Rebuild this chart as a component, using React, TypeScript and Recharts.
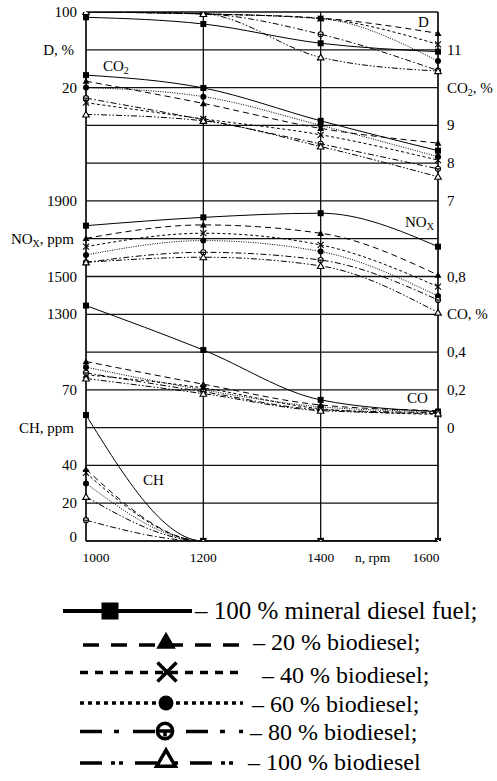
import React from "react";
import { ComposedChart, Line, XAxis, YAxis, CartesianGrid } from "recharts";

// ---------- data ----------
const rpm = [1000, 1200, 1400, 1600];
const fuelKeys = ["diesel", "b20", "b40", "b60", "b80", "b100"];
const fuelNames = [
  "100 % mineral diesel fuel;",
  "20 % biodiesel;",
  "40 % biodiesel;",
  "60 % biodiesel;",
  "80 % biodiesel;",
  "100 % biodiesel",
];

// smoke opacity D, %
const smokeD = [
  [94.4, 87.3, 66.9, 58.0],
  [100, 98, 93.5, 77.4],
  [100, 98, 93, 65.8],
  [100, 98, 93, 48],
  [100, 98, 76.4, 38],
  [100, 98, 52, 37.5],
];
// CO2, %
const co2 = [
  [10.33, 9.99, 9.12, 8.33],
  [10.17, 9.58, 8.92, 8.53],
  [9.6, 9.17, 8.75, 8.08],
  [10.0, 9.76, 9.0, 8.17],
  [9.72, 9.15, 8.51, 7.85],
  [9.29, 9.12, 8.44, 7.64],
];
// NOx, ppm
const nox = [
  [1769, 1813, 1835, 1658],
  [1702, 1773, 1729, 1508],
  [1658, 1729, 1667, 1446],
  [1614, 1690, 1632, 1397],
  [1575, 1628, 1587, 1376],
  [1575, 1602, 1556, 1309],
];
// CO, %
const co = [
  [0.646, 0.411, 0.147, 0.085],
  [0.35, 0.23, 0.12, 0.09],
  [0.28, 0.21, 0.1, 0.07],
  [0.32, 0.2, 0.11, 0.085],
  [0.29, 0.19, 0.095, 0.08],
  [0.26, 0.18, 0.09, 0.075],
];
// CH, ppm
const ch = [
  [66.7, 0, 0, 0],
  [38, 0, 0, 0],
  [36, 0, 0, 0],
  [30.5, 0, 0, 0],
  [11, 0, 0, 0],
  [23.4, 0, 0, 0],
];

// grid rows (top = 0, bottom = 14) and the labels shown beside them
const gridRows = [0, 1, 2, 3, 4, 5, 6, 7, 8, 9, 10, 11, 12, 13, 14];
const leftLabels: Record<number, string> = {
  0: "100", 1: "D, %", 2: "20", 5: "1900", 6: "NOX, ppm", 7: "1500", 8: "1300",
  10: "70", 11: "CH, ppm", 12: "40", 13: "20", 14: "0",
};
const rightLabels: Record<number, string> = {
  1: "11", 2: "CO2, %", 3: "9", 4: "8", 5: "7", 7: "0,8", 8: "CO, %", 9: "0,4", 10: "0,2", 11: "0",
};

// D axis: 100 at top, 40 % per grid row; CO2 axis: 12 at top, 1 % per row
const dTicks = gridRows.map((r) => 100 - 40 * r);
const co2Ticks = gridRows.map((r) => 12 - r);

// ---------- build table ----------
const quantities = [
  { id: "D", values: smokeD, domain: [-460, 100] },
  { id: "CO2", values: co2, domain: [-2, 12] },
  { id: "NOx", values: nox, domain: [100, 2900] },
  { id: "CO", values: co, domain: [-0.6, 2.2] },
  { id: "CH", values: ch, domain: [0, 280] },
];

const table = rpm.map((n, i) => {
  const row: Record<string, number> = { rpm: n };
  quantities.forEach((q) => {
    fuelKeys.forEach((k, f) => {
      row[`${q.id}_${k}`] = q.values[f][i];
    });
  });
  return row;
});

const FONT = "'Liberation Serif', 'Times New Roman', serif";

const styles = [
  { dash: undefined as string | undefined, marker: "square" },
  { dash: "6 4", marker: "triangle" },
  { dash: "3 2.5", marker: "cross" },
  { dash: "1 1.4", marker: "dot" },
  { dash: "6 2.5 1.5 2.5", marker: "circle" },
  { dash: "6 2 1.5 2 1.5 2", marker: "opentri" },
];

function Marker({ shape, cx, cy, s, sw }: { shape: string; cx: number; cy: number; s: number; sw: number }) {
  const h = s / 2;
  switch (shape) {
    case "square":
      return <rect x={cx - h} y={cy - h} width={s} height={s} fill="#000" />;
    case "triangle":
      return <polygon points={`${cx},${cy - h * 1.1} ${cx - h * 1.15},${cy + h * 0.9} ${cx + h * 1.15},${cy + h * 0.9}`} fill="#000" />;
    case "cross":
      return (
        <g stroke="#000" strokeWidth={sw}>
          <line x1={cx - h} y1={cy - h} x2={cx + h} y2={cy + h} />
          <line x1={cx - h} y1={cy + h} x2={cx + h} y2={cy - h} />
        </g>
      );
    case "dot":
      return <circle cx={cx} cy={cy} r={h} fill="#000" />;
    case "circle":
      return (
        <g stroke="#000" strokeWidth={sw}>
          <circle cx={cx} cy={cy} r={h * 0.85} fill="#fff" />
          <line x1={cx - h * 0.85} y1={cy} x2={cx + h * 0.85} y2={cy} />
          <line x1={cx} y1={cy} x2={cx} y2={cy + h * 0.6} />
        </g>
      );
    case "opentri":
      return (
        <polygon
          points={`${cx},${cy - h * 1.05} ${cx - h * 1.1},${cy + h * 0.85} ${cx + h * 1.1},${cy + h * 0.85}`}
          fill="#fff"
          stroke="#000"
          strokeWidth={sw}
        />
      );
    default:
      return null;
  }
}

const makeDot = (shape: string) => (p: any) => {
  if (p.cx == null || p.cy == null) return <g key={`e-${p.index}`} />;
  return (
    <g key={`${p.dataKey}-${p.index}`}>
      <Marker shape={shape} cx={p.cx} cy={p.cy} s={6} sw={1.1} />
    </g>
  );
};

function labelContent(lab: string, subSize: number) {
  if (lab.startsWith("NOX")) {
    return (
      <>
        <tspan>NO</tspan>
        <tspan fontSize={subSize} dy={3}>X</tspan>
        <tspan dy={-3}>{lab.slice(3)}</tspan>
      </>
    );
  }
  if (lab.startsWith("CO2")) {
    return (
      <>
        <tspan>CO</tspan>
        <tspan fontSize={subSize} dy={3}>2</tspan>
        <tspan dy={-3}>{lab.slice(3)}</tspan>
      </>
    );
  }
  return lab;
}

const LeftTick = (props: any) => {
  const { y, payload } = props;
  const row = Math.round((100 - payload.value) / 40);
  const lab = leftLabels[row];
  if (!lab) return <g />;
  const isName = /[A-Za-z]/.test(lab);
  const yy = row === 14 ? y - 4 : y;
  return (
    <text x={isName ? 74 : 77} y={yy + 5} textAnchor="end" fontFamily={FONT} fontSize={15} fill="#000">
      {labelContent(lab, 10)}
    </text>
  );
};

const RightTick = (props: any) => {
  const { y, payload } = props;
  const row = Math.round(12 - payload.value);
  const lab = rightLabels[row];
  if (!lab) return <g />;
  return (
    <text x={447} y={y + 5} textAnchor="start" fontFamily={FONT} fontSize={15} fill="#000">
      {labelContent(lab, 10)}
    </text>
  );
};

const xLabelShift: Record<number, number> = { 1000: 10, 1200: 0, 1400: 0, 1600: -12 };
const XTick = (props: any) => {
  const { x, payload } = props;
  return (
    <text x={x + (xLabelShift[payload.value] || 0)} y={562} textAnchor="middle" fontFamily={FONT} fontSize={13.5} fill="#000">
      {payload.value}
    </text>
  );
};

function Legend() {
  const rows = [
    { y: 611, x1: 63, x2: 192, dash: undefined as string | undefined, mx: 110, my: 611, ms: 17, tx: 195, ty: 619, fs: 25 },
    { y: 645, x1: 83, x2: 245, dash: "16 12", mx: 166, my: 641, ms: 17, tx: 253, ty: 650, fs: 24 },
    { y: 672.5, x1: 80, x2: 243, dash: "8 7", mx: 167, my: 672, ms: 19, tx: 262, ty: 683, fs: 24 },
    { y: 703, x1: 80, x2: 243, dash: "4 4", mx: 166, my: 703, ms: 15, tx: 252, ty: 712, fs: 24 },
    { y: 731.5, x1: 80, x2: 243, dash: "22 12 5 14", mx: 165, my: 731, ms: 18, tx: 250, ty: 740, fs: 24 },
    { y: 763, x1: 80, x2: 237, dash: "22 9 4 4 4 12", mx: 166, my: 759, ms: 17, tx: 248, ty: 770, fs: 24 },
  ];
  return (
    <g>
      {rows.map((r, i) => (
        <g key={i}>
          <line x1={r.x1} y1={r.y} x2={r.x2} y2={r.y} stroke="#000" strokeWidth={i === 0 ? 4 : 3.6} strokeDasharray={r.dash} />
          <Marker shape={styles[i].marker} cx={r.mx} cy={r.my} s={r.ms} sw={3.5} />
          <text x={r.tx} y={r.ty} fontFamily={FONT} fontSize={r.fs} fill="#000">
            {"\u2013 " + fuelNames[i]}
          </text>
        </g>
      ))}
    </g>
  );
}

export default function App() {
  return (
    <div style={{ position: "absolute", left: 0, top: 0, width: 497, height: 781, background: "#fff" }}>
      <ComposedChart width={497} height={570} data={table} margin={{ top: 12, right: 0, bottom: 0, left: 0 }}>
        <CartesianGrid yAxisId="D" stroke="#111" strokeWidth={1.3} />
        <XAxis
          dataKey="rpm"
          type="number"
          domain={[1000, 1600]}
          ticks={rpm}
          interval={0}
          height={29}
          tick={XTick}
          tickLine={false}
          axisLine={{ stroke: "#111", strokeWidth: 1.3 }}
        />
        <YAxis
          yAxisId="D"
          orientation="left"
          type="number"
          domain={[-460, 100]}
          allowDataOverflow
          ticks={dTicks}
          interval={0}
          width={86}
          tick={LeftTick}
          tickLine={false}
          axisLine={{ stroke: "#111", strokeWidth: 1.3 }}
        />
        <YAxis
          yAxisId="CO2"
          orientation="right"
          type="number"
          domain={[-2, 12]}
          allowDataOverflow
          ticks={co2Ticks}
          interval={0}
          width={59}
          tick={RightTick}
          tickLine={false}
          axisLine={{ stroke: "#111", strokeWidth: 1.3 }}
        />
        {quantities.slice(2).map((q) => (
          <YAxis key={q.id} yAxisId={q.id} hide type="number" domain={q.domain} allowDataOverflow width={0} />
        ))}
        {quantities.map((q) =>
          fuelKeys.map((k, f) => (
            <Line
              key={`${q.id}_${k}`}
              yAxisId={q.id}
              dataKey={`${q.id}_${k}`}
              type="monotone"
              stroke="#000"
              strokeWidth={1}
              strokeDasharray={styles[f].dash}
              dot={makeDot(styles[f].marker)}
              activeDot={false}
              isAnimationActive={false}
            />
          ))
        )}
      </ComposedChart>
      <svg
        width={497}
        height={781}
        style={{ position: "absolute", left: 0, top: 0, pointerEvents: "none" }}
      >
        <g fontFamily={FONT} fontSize={15} fill="#000">
          <text x={418} y={27}>D</text>
          <text x={103} y={71}>
            <tspan>CO</tspan>
            <tspan fontSize={10} dy={3}>2</tspan>
          </text>
          <text x={405} y={227}>
            <tspan>NO</tspan>
            <tspan fontSize={10} dy={3}>X</tspan>
          </text>
          <text x={407} y={403}>CO</text>
          <text x={143} y={485}>CH</text>
          <text x={355} y={562} fontSize={13.5}>n, rpm</text>
        </g>
        <Legend />
      </svg>
    </div>
  );
}
